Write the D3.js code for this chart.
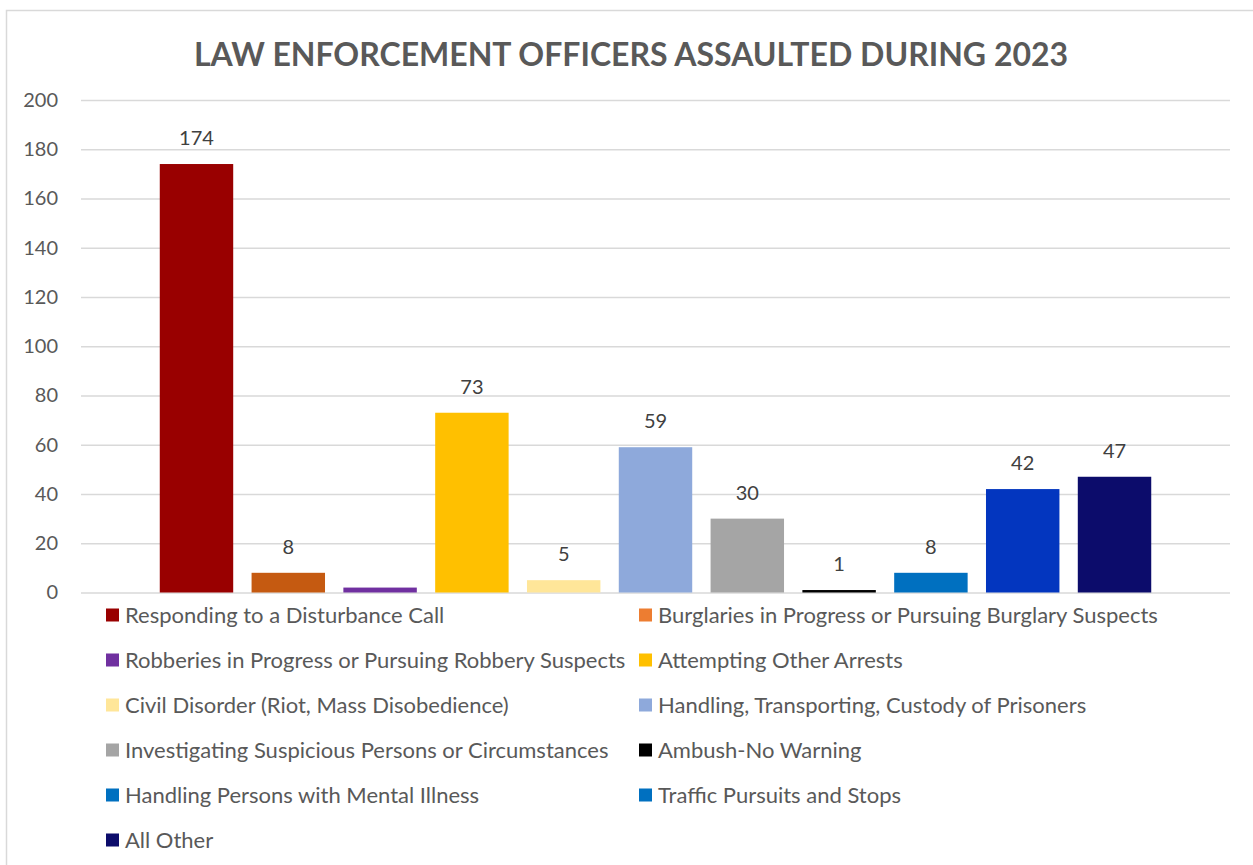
<!DOCTYPE html>
<html>
<head>
<meta charset="utf-8">
<script src="https://cdn.jsdelivr.net/npm/d3@7"></script>
<style>
  body { margin: 0; background: #fff; }
  svg { display: block; font-family: Lato, "Open Sans", sans-serif; }
</style>
</head>
<body>
<svg id="chart"></svg>
<script>
// data
const categories = [
    "Responding to a Disturbance Call",
    "Burglaries in Progress or Pursuing Burglary Suspects",
    "Robberies in Progress or Pursuing Robbery Suspects",
    "Attempting Other Arrests",
    "Civil Disorder (Riot, Mass Disobedience)",
    "Handling, Transporting, Custody of Prisoners",
    "Investigating Suspicious Persons or Circumstances",
    "Ambush-No Warning",
    "Handling Persons with Mental Illness",
    "Traffic Pursuits and Stops",
    "All Other"
];
const values = [174, 8, 2, 73, 5, 59, 30, 1, 8, 42, 47];
// the robberies bar carries no data label in the original
const showLabel = [true, true, false, true, true, true, true, true, true, true, true];
const barColors = ["#990000", "#C55A11", "#7030A0", "#FFC000", "#FFE699", "#8EA9DB",
    "#A5A5A5", "#000000", "#0070C0", "#0336BF", "#0C0C6B"];
const legendColors = ["#990000", "#ED7D31", "#7030A0", "#FFC000", "#FFE699", "#8EA9DB",
    "#A5A5A5", "#000000", "#0070C0", "#0070C0", "#0C0C6B"];
const yTicks = [0, 20, 40, 60, 80, 100, 120, 140, 160, 180, 200];
const TITLE = "LAW ENFORCEMENT OFFICERS ASSAULTED DURING 2023";

const width = 1253;
const height = 865;
const PLOT_LEFT = 81;
const PLOT_RIGHT = 1230;
const PLOT_TOP = 100;
const PLOT_BOTTOM = 592.5;

const svg = d3.select("#chart").attr("width", width).attr("height", height);

// chart area frame (runs off the right and bottom edge)
svg.append("rect")
    .attr("x", 6.5).attr("y", 10.5)
    .attr("width", 1300).attr("height", 900)
    .attr("fill", "none")
    .attr("stroke", "#d9d9d9")
    .attr("stroke-width", 1.5);

svg.append("text")
    .attr("x", 631).attr("y", 66)
    .attr("text-anchor", "middle")
    .attr("font-size", 32)
    .attr("font-weight", "bold")
    .attr("fill", "#595959")
    .text(TITLE);

const rows = categories.map(function (c, i) {
    return { name: c, value: values[i], bar: barColors[i], swatch: legendColors[i], label: showLabel[i], idx: i };
});

const y = d3.scaleLinear().domain([0, 200]).range([PLOT_BOTTOM, PLOT_TOP]);
const x = d3.scaleBand()
    .domain(categories)
    .range([PLOT_LEFT, PLOT_RIGHT])
    .paddingInner(0.2)
    .paddingOuter(0.858);

// gridlines + tick labels
const yAxis = svg.append("g")
    .attr("transform", `translate(${PLOT_LEFT},0)`)
    .call(d3.axisLeft(y).tickValues(yTicks).tickSize(-(PLOT_RIGHT - PLOT_LEFT)).tickPadding(23));
yAxis.select(".domain").remove();
yAxis.selectAll(".tick line").attr("stroke", "#d9d9d9").attr("stroke-width", 1.5);
yAxis.selectAll(".tick text")
    .attr("fill", "#595959")
    .attr("font-size", 20)
    .attr("font-family", "Lato, sans-serif");

const bars = svg.append("g").attr("class", "bars");
bars.selectAll("rect")
    .data(rows)
    .enter().append("rect")
    .attr("x", function (d) { return x(d.name); })
    .attr("y", function (d) { return y(d.value); })
    .attr("width", x.bandwidth())
    .attr("height", function (d) { return y(0) - y(d.value); })
    .attr("fill", function (d) { return d.bar; });

bars.selectAll("text")
    .data(rows.filter(function (d) { return d.label; }))
    .enter().append("text")
    .attr("x", function (d) { return x(d.name) + x.bandwidth() / 2; })
    .attr("y", function (d) { return y(d.value) - 19; })
    .attr("text-anchor", "middle")
    .attr("font-size", 20)
    .attr("fill", "#404040")
    .text(function (d) { return d.value; });

// legend, two columns
const legend = svg.append("g").attr("class", "legend")
    .selectAll("g")
    .data(rows)
    .enter().append("g")
    .attr("transform", function (d) {
        const col = d.idx % 2;
        const row = Math.floor(d.idx / 2);
        return `translate(${col === 0 ? 106 : 639}, ${615 + row * 45})`;
    });
legend.append("rect")
    .attr("x", 0).attr("y", -6.5)
    .attr("width", 13).attr("height", 13)
    .attr("fill", function (d) { return d.swatch; });
legend.append("text")
    .attr("x", 19).attr("y", 7.5)
    .attr("font-size", 22)
    .attr("fill", "#595959")
    .text(function (d) { return d.name; });
</script>
</body>
</html>
